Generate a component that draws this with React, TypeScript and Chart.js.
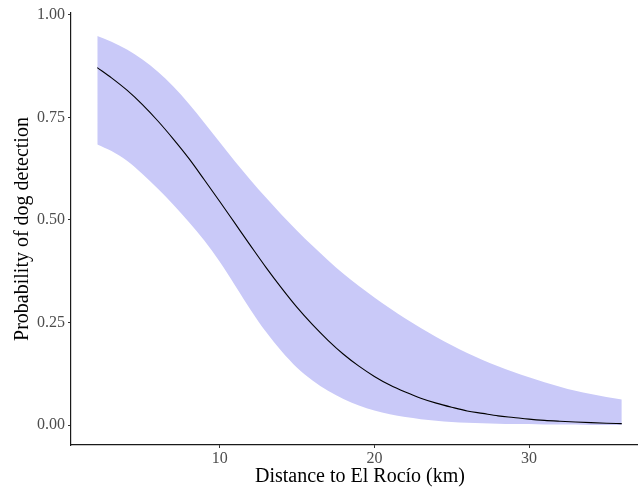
import React, { useEffect, useRef } from "react";
import { Chart, registerables } from "chart.js";

Chart.register(...registerables);

const distanceKm = [2.08, 3, 4, 5, 6, 7, 8, 9, 10, 11, 12, 13, 14, 15, 16, 17, 18, 19, 20, 21, 22, 23, 24, 25, 26, 27, 28, 29, 30, 31, 32, 33, 34, 35, 36];
const probability = [0.871, 0.846, 0.816, 0.781, 0.741, 0.697, 0.65, 0.598, 0.545, 0.491, 0.437, 0.384, 0.334, 0.287, 0.245, 0.207, 0.173, 0.144, 0.119, 0.098, 0.081, 0.066, 0.054, 0.044, 0.035, 0.029, 0.023, 0.019, 0.015, 0.012, 0.0098, 0.0079, 0.0064, 0.0051, 0.0041];
const upperCI = [0.948, 0.934, 0.915, 0.891, 0.861, 0.825, 0.783, 0.737, 0.689, 0.642, 0.597, 0.554, 0.513, 0.474, 0.437, 0.402, 0.369, 0.339, 0.311, 0.285, 0.26, 0.237, 0.215, 0.195, 0.176, 0.159, 0.144, 0.13, 0.117, 0.105, 0.094, 0.084, 0.076, 0.069, 0.063];
const lowerCI = [0.684, 0.668, 0.644, 0.612, 0.576, 0.537, 0.495, 0.45, 0.398, 0.34, 0.281, 0.227, 0.18, 0.14, 0.109, 0.084, 0.064, 0.048, 0.036, 0.027, 0.02, 0.015, 0.011, 0.008, 0.006, 0.005, 0.004, 0.003, 0.003, 0.002, 0.002, 0.002, 0.001, 0.001, 0.001];

const xTicks = [10, 20, 30];
const yTicks = [0, 0.25, 0.5, 0.75, 1];
const yTickLabels = ["0.00", "0.25", "0.50", "0.75", "1.00"];

const xTitle = "Distance to El Rocío (km)";
const yTitle = "Probability of dog detection";

const FONT = "'Liberation Serif', 'Times New Roman', serif";

export default function App() {
  const ref = useRef<HTMLCanvasElement | null>(null);

  useEffect(() => {
    if (!ref.current) return;
    const pts = (arr: number[]) => distanceKm.map((x, i) => ({ x, y: arr[i] }));
    const chart = new Chart(ref.current, {
      type: "line",
      data: {
        datasets: [
          {
            label: "fit",
            data: pts(probability),
            borderColor: "#000000",
            borderWidth: 1.1,
            pointRadius: 0,
            fill: false,
            cubicInterpolationMode: "monotone",
          },
          {
            label: "upper",
            data: pts(upperCI),
            borderWidth: 0,
            borderColor: "rgba(0,0,0,0)",
            backgroundColor: "#c9c9f8",
            pointRadius: 0,
            fill: "+1",
            cubicInterpolationMode: "monotone",
          },
          {
            label: "lower",
            data: pts(lowerCI),
            borderWidth: 0,
            borderColor: "rgba(0,0,0,0)",
            pointRadius: 0,
            fill: false,
            cubicInterpolationMode: "monotone",
          },
        ],
      },
      options: {
        responsive: false,
        animation: false,
        layout: { padding: { top: 13, right: 1, left: 0, bottom: 0 } },
        plugins: {
          legend: { display: false },
          tooltip: { enabled: false },
        },
        scales: {
          x: {
            type: "linear",
            min: 0.38,
            max: 37.76,
            afterFit: (s: any) => {
              s.height = 43;
            },
            afterBuildTicks: (s: any) => {
              s.ticks = xTicks.map((v) => ({ value: v }));
            },
            border: { display: true, color: "#1a1a1a", width: 1.2 },
            grid: { display: true, drawOnChartArea: false, drawTicks: true, tickLength: 3, color: "#333333", lineWidth: 1 },
            ticks: {
              padding: 1,
              color: "#4d4d4d",
              font: { family: FONT, size: 16, lineHeight: 1.2 },
              maxRotation: 0,
              callback: (v: any) => String(v),
            },
            title: {
              display: true,
              text: xTitle,
              color: "#000000",
              font: { family: FONT, size: 20, lineHeight: 1 },
              padding: { top: 0, bottom: 1 },
            },
          },
          y: {
            type: "linear",
            min: -0.048,
            max: 1.004,
            afterFit: (s: any) => {
              s.width = 71;
            },
            afterBuildTicks: (s: any) => {
              s.ticks = yTicks.map((v) => ({ value: v }));
            },
            border: { display: true, color: "#1a1a1a", width: 1.2 },
            grid: { display: true, drawOnChartArea: false, drawTicks: true, tickLength: 3, color: "#333333", lineWidth: 1 },
            ticks: {
              padding: 3,
              color: "#4d4d4d",
              font: { family: FONT, size: 16, lineHeight: 1.2 },
              callback: (v: any) => {
                const i = yTicks.indexOf(Number(v));
                return i >= 0 ? yTickLabels[i] : "";
              },
            },
            title: {
              display: true,
              text: yTitle,
              color: "#000000",
              font: { family: FONT, size: 20, lineHeight: 1 },
              padding: { top: 13, bottom: 0 },
            },
          },
        },
      },
    });
    return () => chart.destroy();
  }, []);

  return (
    <div
      style={{
        position: "fixed",
        left: 0,
        top: 0,
        width: 638,
        height: 488,
        overflow: "hidden",
        background: "#ffffff",
      }}
    >
      <canvas ref={ref} width={650} height={488} style={{ width: 650, height: 488, display: "block" }} />
    </div>
  );
}
